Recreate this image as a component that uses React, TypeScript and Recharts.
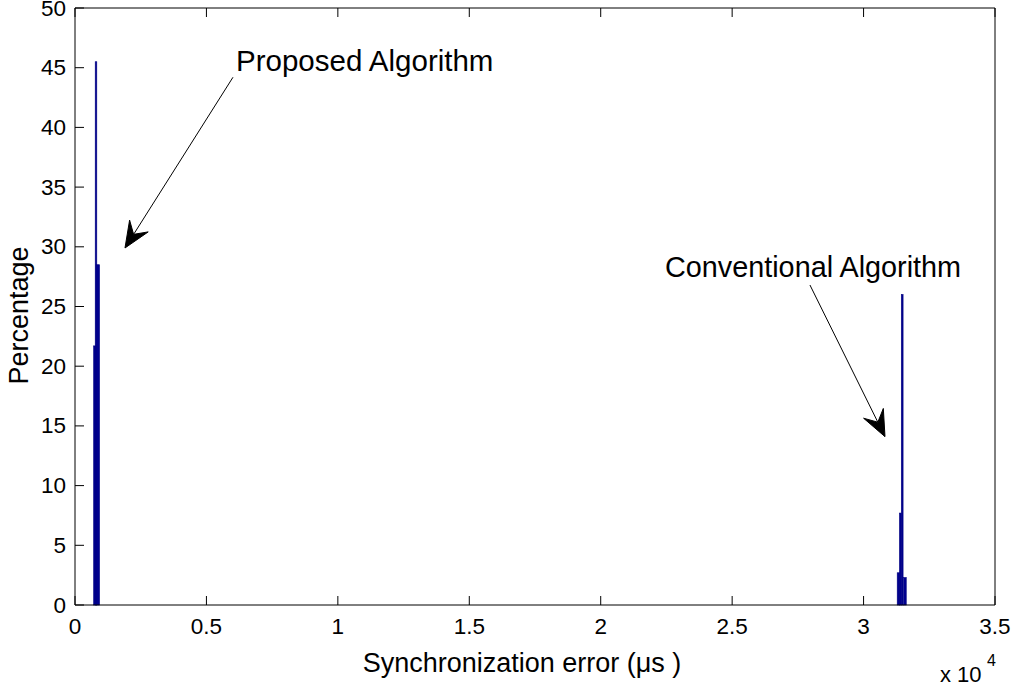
import React from 'react';
import { BarChart, Bar, XAxis, YAxis, ReferenceLine, ReferenceDot } from 'recharts';

// Histogram bin centers (synchronization error, µs) and percentages
const binCenters = [760, 800, 870, 31330, 31400, 31470, 31575];
const percentages = [21.7, 45.5, 28.5, 2.7, 7.7, 26.0, 2.3];

const xTicks = [0, 5000, 10000, 15000, 20000, 25000, 30000, 35000];
const xTickLabels = ['0', '0.5', '1', '1.5', '2', '2.5', '3', '3.5'];
const yTicks = [0, 5, 10, 15, 20, 25, 30, 35, 40, 45, 50];

const annotationTexts = ['Proposed Algorithm', 'Conventional Algorithm'];
const annotationTextPos = [
  [6125, 45.6],
  [22445, 28.3],
];
const arrowFrom = [
  [6010, 44.2],
  [27960, 26.8],
];
const arrowTo = [
  [1902, 29.9],
  [30815, 14.1],
];

const data = binCenters.map((x, i) => ({ x, pct: percentages[i] }));

// drawing widths (px) of each histogram bar
const barPixelWidths = [2.6, 1.6, 3.4, 2.6, 1.8, 1.8, 2.6];

const FONT = '"Liberation Sans", Arial, sans-serif';
const TICK_LEN = 9;

const BottomTick = (props: any) => {
  const { x, y, payload } = props;
  const idx = xTicks.indexOf(payload.value);
  return (
    <g>
      <line x1={x} y1={y} x2={x} y2={y - TICK_LEN} stroke="#000" strokeWidth={1} />
      <text x={x} y={y + 21} textAnchor="middle" dominantBaseline="central" fontSize={22.5} fontFamily={FONT} fill="#000">
        {xTickLabels[idx]}
      </text>
    </g>
  );
};

const TopTick = (props: any) => {
  const { x, y } = props;
  return <line x1={x} y1={y} x2={x} y2={y + TICK_LEN} stroke="#000" strokeWidth={1} />;
};

const LeftTick = (props: any) => {
  const { x, y, payload } = props;
  return (
    <g>
      <line x1={x} y1={y} x2={x + TICK_LEN} y2={y} stroke="#000" strokeWidth={1} />
      <text x={x - 9} y={y} textAnchor="end" dominantBaseline="central" fontSize={22.5} fontFamily={FONT} fill="#000">
        {payload.value}
      </text>
    </g>
  );
};

const RightTick = (props: any) => {
  const { x, y } = props;
  return <line x1={x} y1={y} x2={x - TICK_LEN} y2={y} stroke="#000" strokeWidth={1} />;
};

const HistBar = (props: any) => {
  const { x, y, width, height, index } = props;
  const w = barPixelWidths[index] ?? 2.5;
  const cx = x + width / 2;
  return <rect x={cx - w / 2} y={y} width={w} height={height} fill="#00008f" stroke="#000080" strokeWidth={0.6} />;
};

const ArrowShape = (props: any) => {
  const { x1, y1, x2, y2 } = props;
  const dx = x2 - x1;
  const dy = y2 - y1;
  const len = Math.sqrt(dx * dx + dy * dy) || 1;
  const ux = dx / len;
  const uy = dy / len;
  const nx = -uy;
  const ny = ux;
  const L = 26;
  const W = 22;
  const bx = x2 - L * ux;
  const by = y2 - L * uy;
  const p1 = `${x2},${y2}`;
  const p2 = `${bx + (W / 2) * nx},${by + (W / 2) * ny}`;
  const p3 = `${x2 - 0.62 * L * ux},${y2 - 0.62 * L * uy}`;
  const p4 = `${bx - (W / 2) * nx},${by - (W / 2) * ny}`;
  return (
    <g>
      <line x1={x1} y1={y1} x2={x2 - 0.62 * L * ux} y2={y2 - 0.62 * L * uy} stroke="#000" strokeWidth={1} />
      <polygon points={`${p1} ${p2} ${p3} ${p4}`} fill="#000" stroke="#000" strokeWidth={1} />
    </g>
  );
};

const makeTextShape = (text: string, size: number) => (props: any) => {
  const { cx, cy } = props;
  return (
    <text x={cx} y={cy} textAnchor="start" dominantBaseline="central" fontSize={size} fontFamily={FONT} fill="#000">
      {text}
    </text>
  );
};
const annotationSizes = [29.5, 28.8];

const XLabel = (props: any) => {
  const { viewBox } = props;
  const { x, y, width } = viewBox;
  return (
    <g>
      <text x={x + width / 2 - 13} y={y + 58} textAnchor="middle" dominantBaseline="central" fontSize={27} fontFamily={FONT} fill="#000">
        Synchronization error (μs )
      </text>
      <text x={x + width - 55} y={y + 69} textAnchor="start" dominantBaseline="central" fontSize={22} fontFamily={FONT} fill="#000">
        x 10
      </text>
      <text x={x + width - 8} y={y + 55} textAnchor="start" dominantBaseline="central" fontSize={16} fontFamily={FONT} fill="#000">
        4
      </text>
    </g>
  );
};

const YLabel = (props: any) => {
  const { viewBox } = props;
  const { y, height } = viewBox;
  const cx = 19;
  const cy = y + height / 2 + 9;
  return (
    <text x={cx} y={cy} transform={`rotate(-90 ${cx} ${cy})`} textAnchor="middle" dominantBaseline="central" fontSize={27} fontFamily={FONT} fill="#000">
      Percentage
    </text>
  );
};

export default function App() {
  return (
    <div style={{ position: 'absolute', left: 0, top: 0, width: 1011, height: 683, background: '#fff' }}>
      <BarChart
        width={1011}
        height={683}
        data={data}
        margin={{ top: 7, right: 15, bottom: 0, left: 0 }}
        barGap={0}
        barCategoryGap={0}
      >
        <XAxis
          dataKey="x"
          type="number"
          domain={[0, 35000]}
          ticks={xTicks}
          allowDataOverflow
          height={78}
          tickSize={0}
          tickMargin={0}
          tickLine={false}
          axisLine={{ stroke: '#000', strokeWidth: 1 }}
          tick={<BottomTick />}
          interval={0}
          label={<XLabel />}
        />
        <XAxis
          xAxisId="top"
          orientation="top"
          dataKey="x"
          type="number"
          domain={[0, 35000]}
          ticks={xTicks}
          height={1}
          tickSize={0}
          tickMargin={0}
          tickLine={false}
          axisLine={{ stroke: '#000', strokeWidth: 1 }}
          tick={<TopTick />}
          interval={0}
        />
        <YAxis
          type="number"
          domain={[0, 50]}
          ticks={yTicks}
          width={75}
          tickSize={0}
          tickMargin={0}
          tickLine={false}
          axisLine={{ stroke: '#000', strokeWidth: 1 }}
          tick={<LeftTick />}
          interval={0}
          label={<YLabel />}
        />
        <YAxis
          yAxisId="right"
          orientation="right"
          type="number"
          domain={[0, 50]}
          ticks={yTicks}
          width={1}
          tickSize={0}
          tickMargin={0}
          tickLine={false}
          axisLine={{ stroke: '#000', strokeWidth: 1 }}
          tick={<RightTick />}
          interval={0}
        />
        <Bar dataKey="pct" fill="#00008f" shape={<HistBar />} isAnimationActive={false} />
        {annotationTexts.map((t, i) => (
          <ReferenceLine
            key={`arrow-${i}`}
            segment={[
              { x: arrowFrom[i][0], y: arrowFrom[i][1] },
              { x: arrowTo[i][0], y: arrowTo[i][1] },
            ]}
            ifOverflow="visible"
            shape={(p: any) => <ArrowShape {...p} />}
          />
        ))}
        {annotationTexts.map((t, i) => (
          <ReferenceDot
            key={`text-${i}`}
            x={annotationTextPos[i][0]}
            y={annotationTextPos[i][1]}
            r={0}
            ifOverflow="visible"
            shape={makeTextShape(t, annotationSizes[i])}
          />
        ))}
      </BarChart>
    </div>
  );
}
